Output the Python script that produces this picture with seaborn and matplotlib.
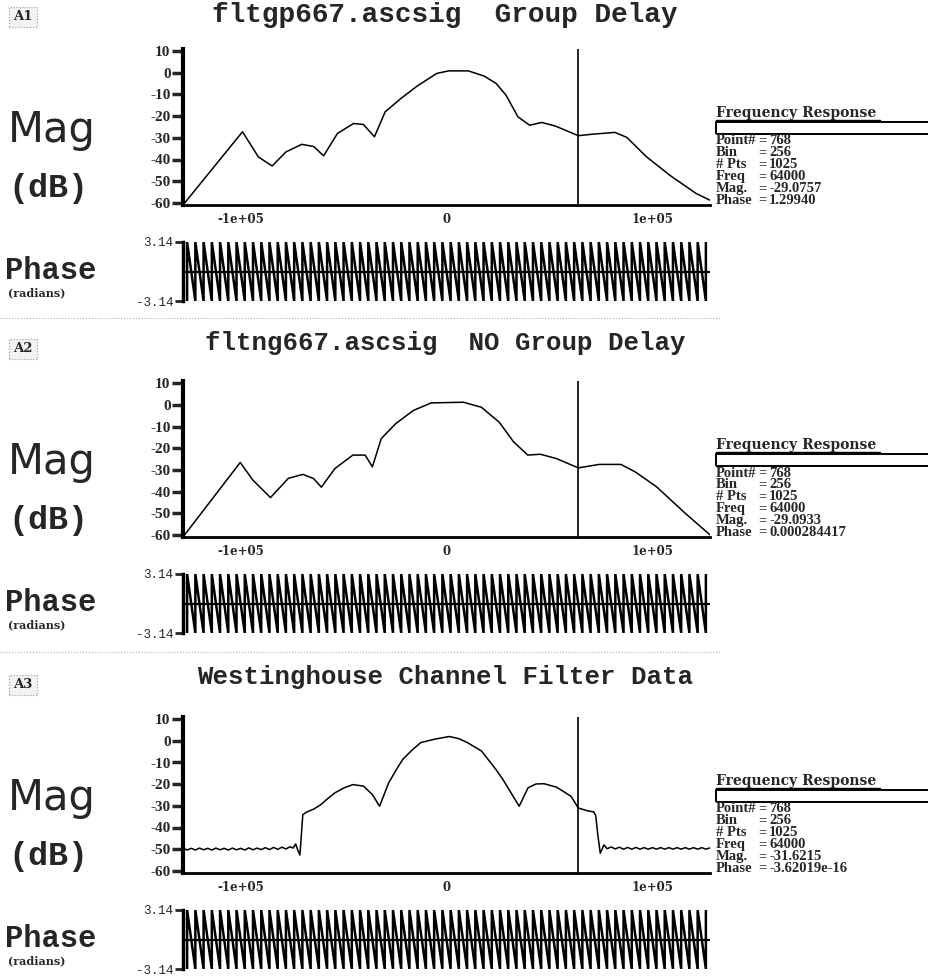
import numpy as np
import pandas as pd
import seaborn as sns
import matplotlib.pyplot as plt
from matplotlib.patches import Rectangle
from matplotlib.lines import Line2D

# ==========================================
# DATA
# ==========================================

FREQ_TICKS = [-100000, 0, 100000]
FREQ_TICK_LABELS = ["-1e+05", "0", "1e+05"]
MAG_TICKS = [10, 0, -10, -20, -30, -40, -50, -60]
PHASE_TICKS = [3.14, -3.14]
PHASE_TICK_LABELS = ["3.14", "-3.14"]
MARKER_FREQ = 64000

PANEL_LABELS = ["A1", "A2", "A3"]
PANEL_TITLES = [
    "fltgp667.ascsig  Group Delay",
    "fltng667.ascsig  NO Group Delay",
    "Westinghouse Channel Filter Data",
]

A1_FREQ_KHZ = [-128, -99.1, -91.4, -84.7, -78, -70.3, -64.5, -59.7, -53, -45.2,
               -40.4, -35, -29.8, -22.1, -14.4, -4.8, 1, 10.6, 18.3, 24.1,
               28.9, 34.7, 40.4, 46.2, 53, 64, 71.2, 81.8, 87.6, 97.2,
               108.8, 121.3, 128]
A1_MAG_DB = [-61, -27.2, -38.8, -43, -36.5, -33, -34, -38.3, -28, -23.4,
             -23.8, -29.5, -18, -11.8, -6.2, -0.3, 0.9, 0.9, -1.5, -4.9,
             -10.3, -20.3, -24.2, -22.9, -24.6, -29, -28.3, -27.5, -29.8, -38.8,
             -47.5, -55.7, -58.8]

A2_FREQ_KHZ = [-128, -100.2, -94.1, -85.5, -76.8, -69.8, -64.6, -60.8, -54.2, -45.5,
               -39.5, -36, -31.7, -24.7, -16.1, -7.4, 8.2, 16.9, 25.6, 32.6,
               39.5, 45.6, 53.4, 64, 74.2, 84.7, 91.6, 102, 115.9, 128]
A2_MAG_DB = [-61, -26.6, -34.7, -42.8, -33.9, -32.1, -34, -38, -29.4, -23.2,
             -23.2, -28.6, -15.6, -8.7, -2.6, 0.9, 1.2, -1.1, -8, -17.1,
             -23.2, -22.8, -24.8, -29.1, -27.5, -27.5, -30.9, -37.8, -50, -60]

A3_FREQ_KHZ = [-128, -126, -124, -122, -120, -118, -116, -114, -112, -110,
               -108, -106, -104, -102, -100, -98, -96, -94, -92, -90,
               -88, -86, -84, -82, -80, -78, -76, -74.5, -73.3, -72.2,
               -71.2, -70.4, -69.8, -68, -64.5, -61.1, -57.5, -54.2, -50, -45.5,
               -40.3, -36, -32.5, -28.1, -24.5, -21.2, -17, -12.5, -5.6, 1.4,
               6, 10.1, 17, 24, 27.5, 30.9, 35.3, 39.6, 43.5, 47.4,
               53.5, 60.5, 64, 68.5, 71.5, 72.5, 73.5, 74.7, 76.5, 78,
               80, 82, 84, 86, 88, 90, 92, 94, 96, 98,
               100, 102, 104, 106, 108, 110, 112, 114, 116, 118,
               120, 122, 124, 126, 128]
A3_MAG_DB = [-49.5, -50.4, -49.6, -50.4, -49.5, -50.3, -49.6, -50.4, -49.5, -50.3,
             -49.6, -50.4, -49.5, -50.3, -49.6, -50.4, -49.4, -50.3, -49.5, -50.2,
             -49.3, -50.2, -49.2, -50.1, -49.1, -49.9, -48.9, -49.5, -47.6, -50.5,
             -52.7, -42, -34.1, -32.9, -31.5, -29.5, -26.5, -24, -21.8, -20.2,
             -20.9, -24.8, -30.2, -19.4, -13.5, -8.5, -4.5, -0.8, 0.8, 2,
             1, -0.8, -4.7, -13.2, -18, -23.3, -30.2, -21.7, -19.9, -19.8,
             -21.4, -25.6, -31, -32.3, -32.8, -34.5, -43.4, -51.9, -48, -49.8,
             -49, -49.9, -49.1, -50, -49.2, -50, -49.2, -50, -49.3, -50,
             -49.3, -50, -49.3, -50, -49.3, -50, -49.3, -50, -49.3, -50,
             -49.3, -50, -49.3, -50, -49.4]

# frequencies where the wrapped phase jumps from -pi back to +pi
PHASE_WRAP_KHZ = [-126, -122, -118, -114, -110, -106, -102, -98, -94, -90,
                  -86, -82, -78, -74, -70, -66, -62, -58, -54, -50,
                  -46, -42, -38, -34, -30, -26, -22, -18, -14, -10,
                  -6, -2, 2, 6, 10, 14, 18, 22, 26, 30,
                  34, 38, 42, 46, 50, 54, 58, 62, 66, 70,
                  74, 78, 82, 86, 90, 94, 98, 102, 106, 110,
                  114, 118, 122, 126]

INFO_LABELS = ["Point#", "Bin", "# Pts", "Freq", "Mag.", "Phase"]
A1_INFO = ["768", "256", "1025", "64000", "-29.0757", "1.29940"]
A2_INFO = ["768", "256", "1025", "64000", "-29.0933", "0.000284417"]
A3_INFO = ["768", "256", "1025", "64000", "-31.6215", "-3.62019e-16"]

MAG_FREQS = [A1_FREQ_KHZ, A2_FREQ_KHZ, A3_FREQ_KHZ]
MAG_VALUES = [A1_MAG_DB, A2_MAG_DB, A3_MAG_DB]
INFO_VALUES = [A1_INFO, A2_INFO, A3_INFO]

# ==========================================
# LAYOUT HELPERS (pixel based, 929 x 976)
# ==========================================

W, H = 929, 976
PANEL_OFFSETS = [0, 332, 668]
TITLE_Y = [15, 343, 677]
TITLE_SIZES = [20, 18.5, 18.5]

sns.set_style("white")
plt.rcParams["font.family"] = ["DejaVu Sans"]

fig = plt.figure(figsize=(W / 100, H / 100), dpi=100)
fig.patch.set_facecolor("white")


def px_axes(left, top, right, bottom):
    return fig.add_axes([left / W, 1 - bottom / H, (right - left) / W, (bottom - top) / H])


def px_text(x, y, s, **kw):
    return fig.text(x / W, 1 - y / H, s, **kw)


def px_line(x0, x1, y, **kw):
    fig.add_artist(Line2D([x0 / W, x1 / W], [1 - y / H, 1 - y / H],
                          transform=fig.transFigure, **kw))


def phase_frame(wraps_khz):
    xs, ys = [], []
    for f in wraps_khz:
        xs += [f * 1000, f * 1000]
        ys += [-3.14, 3.14]
    return pd.DataFrame({"freq": xs, "phase": ys})


SERIF_B = dict(family="DejaVu Serif", weight="bold")
TIMES_B = dict(family="Liberation Serif", weight="bold")
MONO_B = dict(family="Liberation Mono", weight="bold")

# ==========================================
# DRAW PANELS
# ==========================================

for i, dy in enumerate(PANEL_OFFSETS):
    # panel label + title
    px_text(23, 17 + dy, PANEL_LABELS[i], ha="center", va="center", fontsize=9.5,
            family="DejaVu Serif", weight="bold",
            bbox=dict(boxstyle="square,pad=0.3", fc="#f2f2f2", ec="#999999", ls=":", lw=0.8))
    px_text(445, TITLE_Y[i], PANEL_TITLES[i], ha="center", va="center",
            fontsize=TITLE_SIZES[i], **MONO_B)

    # left labels
    px_text(8, 130 + dy, "Mag", ha="left", va="center", fontsize=30, family="DejaVu Sans")
    px_text(8, 188 + dy, "(dB)", ha="left", va="center", fontsize=24, **MONO_B)
    px_text(5, 271 + dy, "Phase", ha="left", va="center", fontsize=22, **MONO_B)
    px_text(8, 293 + dy, "(radians)", ha="left", va="center", fontsize=8, **SERIF_B)

    # magnitude
    mag_df = pd.DataFrame({"freq": np.array(MAG_FREQS[i]) * 1000, "mag": MAG_VALUES[i]})
    ax = px_axes(183, 49 + dy, 710, 205 + dy)
    sns.lineplot(data=mag_df, x="freq", y="mag", ax=ax, color="black", lw=1.1,
                 estimator=None, sort=False)
    ax.axvline(MARKER_FREQ, color="black", lw=1.2)
    ax.set_xlim(-128000, 128000)
    ax.set_ylim(-61, 11)
    ax.set_yticks(MAG_TICKS)
    ax.set_yticklabels([str(t) for t in MAG_TICKS], family="Liberation Serif",
                       weight="bold", fontsize=11)
    ax.set_xticks(FREQ_TICKS)
    ax.set_xticklabels(FREQ_TICK_LABELS, family="DejaVu Serif", weight="bold", fontsize=8.5)
    ax.tick_params(axis="y", direction="out", length=8, width=2.5, pad=1, left=True)
    ax.tick_params(axis="x", length=0, pad=6)
    ax.set_xlabel("")
    ax.set_ylabel("")
    for side in ["top", "right"]:
        ax.spines[side].set_visible(False)
    ax.spines["left"].set_linewidth(3)
    ax.spines["bottom"].set_linewidth(2)
    ax.spines["left"].set_color("black")
    ax.spines["bottom"].set_color("black")
    ax.patch.set_alpha(0)

    # phase
    axp = px_axes(183, 242 + dy, 710, 301 + dy)
    sns.lineplot(data=phase_frame(PHASE_WRAP_KHZ), x="freq", y="phase", ax=axp,
                 color="black", lw=1.8, estimator=None, sort=False)
    axp.axhline(0, color="black", lw=1.6)
    axp.set_xlim(-128000, 128000)
    axp.set_ylim(-3.14, 3.14)
    axp.set_yticks(PHASE_TICKS)
    axp.set_yticklabels(PHASE_TICK_LABELS, family="Liberation Mono", fontsize=9)
    axp.set_xticks([])
    axp.tick_params(axis="y", direction="out", length=6, width=2, pad=1, left=True)
    axp.set_xlabel("")
    axp.set_ylabel("")
    for side in ["top", "right", "bottom"]:
        axp.spines[side].set_visible(False)
    axp.spines["left"].set_linewidth(2.5)
    axp.spines["left"].set_color("black")
    axp.patch.set_alpha(0)

    # info box
    px_text(716, 113 + dy, "Frequency Response", ha="left", va="center", fontsize=10, **SERIF_B)
    px_line(716, 880, 120 + dy, color="black", lw=1)
    fig.add_artist(Rectangle((716 / W, 1 - (134 + dy) / H), 240 / W, 12 / H,
                             transform=fig.transFigure, fill=False, ec="black", lw=1.4))
    for r, (lab, val) in enumerate(zip(INFO_LABELS, INFO_VALUES[i])):
        y = 141 + dy + r * 11.8
        px_text(716, y, lab, ha="left", va="center", fontsize=10.5, **TIMES_B)
        px_text(758, y, "=", ha="left", va="center", fontsize=10.5, **TIMES_B)
        px_text(769, y, val, ha="left", va="center", fontsize=10.5, **TIMES_B)

# dotted separators between panels
px_line(0, 720, 318, color="#b0b0b0", lw=0.8, ls=":")
px_line(0, 720, 652, color="#b0b0b0", lw=0.8, ls=":")

fig.savefig("out.png", dpi=100, facecolor="white")
